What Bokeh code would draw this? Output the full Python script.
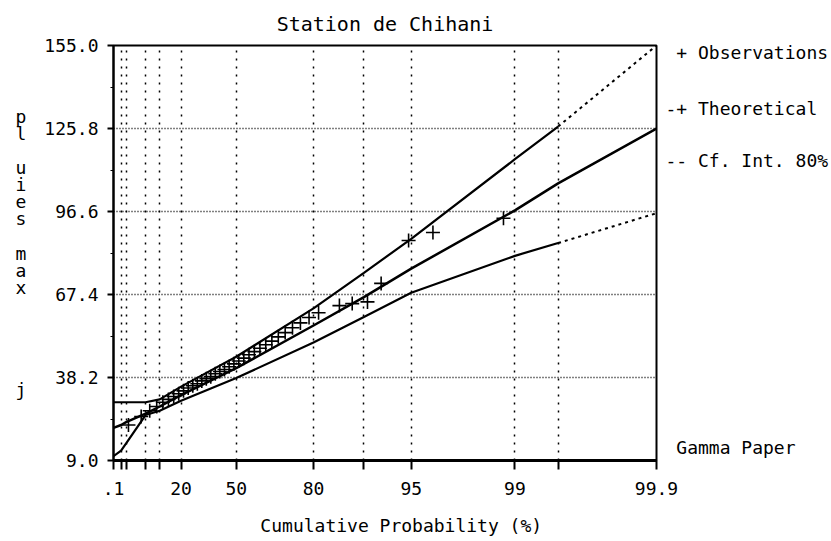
import math
from statistics import NormalDist
from bokeh.plotting import figure
from bokeh.models import (Range1d, FixedTicker, CustomJSTickFormatter, PrintfTickFormatter,
                          LinearAxis, ColumnDataSource)
from bokeh.embed import file_html
from bokeh.resources import INLINE

# ---------------- data ----------------
# probabilities in %, values in mm
obs_p = [1.3, 3.8, 6.3, 8.8, 11.3, 13.8, 16.3, 18.8, 21.3, 23.8, 26.3, 28.8, 31.3, 33.8,
         36.3, 38.8, 41.3, 43.8, 46.3, 48.8, 51.3, 53.8, 56.3, 58.8, 61.3, 63.8, 66.3,
         68.8, 71.3, 73.8, 76.3, 78.8, 81.3, 85.9, 88.2, 90.5, 92.2, 94.8, 96.4, 98.8]
obs_v = [21.5, 24.5, 26.5, 28.0, 29.5, 30.5, 31.5, 32.5, 33.5, 34.5, 35.3, 36.0, 37.0, 37.8,
         38.5, 39.5, 40.3, 41.0, 42.0, 43.0, 44.0, 45.0, 46.2, 47.3, 48.5, 49.7, 51.0,
         52.5, 54.0, 55.7, 57.4, 59.3, 61.0, 63.5, 64.2, 64.8, 71.3, 86.4, 89.2, 94.2]

curve_p = [0.1, 0.5, 1, 5, 10, 20, 50, 80, 90, 95, 99, 99.5, 99.9]
theo_v = [20.5, 21.5, 22.5, 25.5, 28.0, 32.0, 41.5, 56.5, 66.5, 76.5, 97.0, 106.5, 125.8]
upper_v = [29.5, 29.5, 29.5, 29.5, 30.5, 35.0, 45.5, 62.5, 75.0, 87.0, 115.0, 126.5, 155.0]
lower_v = [10.5, 12.5, 15.0, 25.0, 26.5, 30.0, 38.0, 50.5, 59.5, 68.0, 81.0, 85.5, 96.0]

x_tick_p = [0.1, 20, 50, 80, 95, 99, 99.9]
x_tick_labels = [".1", "20", "50", "80", "95", "99", "99.9"]
x_minor_p = [0.5, 1, 5, 10, 90, 99.5]
y_ticks = [9.0, 38.2, 67.4, 96.6, 125.8, 155.0]
y_minor = [23.6, 52.8, 82.0, 111.2, 140.4]

title_text = "Station de Chihani"
x_label = "\u00a0\u00a0\u00a0Cumulative Probability (%)"
y_label_letters = ["p", "l", " ", "u", "i", "e", "s", " ", "m", "a", "x", " ", " ", " ", " ", " ", "j"]
# key texts shown at the right of the frame (symbol + name)
key_texts = ["\u00a0+ Observations", "-+ Theoretical", "-- Cf. Int. 80%", "\u00a0Gamma Paper"]
key_rows = [152.5, 132.8, 114.5, 13.6]   # vertical placement of the key rows, in axis units

FONT = "DejaVu Sans Mono"
INK = "black"

# ---------------- gamma probability paper (shape 3) ----------------
K = 3.0
_c = 1.0 / (9.0 * K)
_nd = NormalDist()


def paper_x(pct):
    z = _nd.inv_cdf(pct / 100.0)
    return K * (1.0 - _c + z * math.sqrt(_c)) ** 3


def px(lst):
    return [paper_x(v) for v in lst]


NEAREST = """
let best = 0; let d = Infinity;
for (let i = 0; i < pos.length; i++) { const e = Math.abs(pos[i] - tick); if (e < d) { d = e; best = i; } }
return labels[best];
"""

p = figure(width=831, height=541, output_backend="svg", toolbar_location=None,
           x_range=Range1d(paper_x(0.1), paper_x(99.9)), y_range=Range1d(9.0, 155.0),
           min_border_left=113, min_border_right=173, min_border_top=45, min_border_bottom=81,
           background_fill_color="white", border_fill_color="white")

p.title.text = title_text
p.title.align = "center"
p.title.text_font = FONT
p.title.text_font_size = "20px"
p.title.text_font_style = "normal"
p.title.text_color = INK
p.title.standoff = 19

p.outline_line_color = INK
p.outline_line_width = 2

# x axis
xt = px(x_tick_p)
p.xaxis.ticker = FixedTicker(ticks=xt, minor_ticks=px(x_minor_p))
p.xaxis.formatter = CustomJSTickFormatter(args=dict(pos=xt, labels=x_tick_labels), code=NEAREST)
p.xaxis.axis_label = x_label
p.xaxis.axis_label_text_font = FONT
p.xaxis.axis_label_text_font_size = "18px"
p.xaxis.axis_label_text_font_style = "normal"
p.xaxis.axis_label_text_color = INK
p.xaxis.axis_label_standoff = 17
p.xaxis.major_label_text_font = FONT
p.xaxis.major_label_text_font_size = "18px"
p.xaxis.major_label_text_color = INK
p.xaxis.major_label_standoff = 12
p.xaxis.major_tick_in = 0
p.xaxis.major_tick_out = 9
p.xaxis.minor_tick_in = 0
p.xaxis.minor_tick_out = 9
p.xaxis.major_tick_line_width = 2
p.xaxis.minor_tick_line_width = 2
p.xaxis.axis_line_width = 3
p.xaxis.axis_line_color = INK

# y axis (label = stacked letters)
p.yaxis.ticker = FixedTicker(ticks=y_ticks, minor_ticks=y_minor)
p.yaxis.formatter = PrintfTickFormatter(format="%.1f")
p.yaxis.major_label_text_font = FONT
p.yaxis.major_label_text_font_size = "18px"
p.yaxis.major_label_text_color = INK
p.yaxis.major_label_standoff = 9
p.yaxis.major_tick_in = 0
p.yaxis.major_tick_out = 6
p.yaxis.minor_tick_in = 0
p.yaxis.minor_tick_out = 3
p.yaxis.major_tick_line_width = 2
p.yaxis.axis_line_width = 2
p.yaxis.axis_label = "\n".join(y_label_letters)
p.yaxis.axis_label_orientation = "horizontal"
p.yaxis.axis_label_text_font = FONT
p.yaxis.axis_label_text_font_size = "18px"
p.yaxis.axis_label_text_font_style = "normal"
p.yaxis.axis_label_text_color = INK
p.yaxis.axis_label_text_line_height = 0.81
p.yaxis.axis_label_standoff = 15

# key on the right, drawn as an extra unticked axis
key_axis = LinearAxis(ticker=FixedTicker(ticks=key_rows, minor_ticks=[]),
                      formatter=CustomJSTickFormatter(args=dict(pos=key_rows, labels=key_texts),
                                                      code=NEAREST),
                      axis_line_color=None, major_tick_in=0, major_tick_out=0,
                      minor_tick_in=0, minor_tick_out=0, major_label_standoff=9,
                      major_label_text_font=FONT, major_label_text_font_size="18px",
                      major_label_text_color=INK)
p.add_layout(key_axis, "right")

# grids: dotted black
p.xgrid.grid_line_color = INK
p.xgrid.grid_line_dash = "2 6"
p.xgrid.grid_line_width = 1.5
p.xgrid.minor_grid_line_color = INK
p.xgrid.minor_grid_line_dash = "2 6"
p.xgrid.minor_grid_line_width = 1.5
p.ygrid.grid_line_color = INK
p.ygrid.grid_line_dash = "1 2"
p.ygrid.grid_line_width = 1.5

# curves
cx = px(curve_p)
p.line(cx, theo_v, line_color=INK, line_width=2.5)
n_solid = curve_p.index(99.5) + 1
p.line(cx[:n_solid], upper_v[:n_solid], line_color=INK, line_width=2.2)
p.line(cx[:n_solid], lower_v[:n_solid], line_color=INK, line_width=2.2)
p.line(cx[n_solid - 1:], upper_v[n_solid - 1:], line_color=INK, line_width=2, line_dash="3 4")
p.line(cx[n_solid - 1:], lower_v[n_solid - 1:], line_color=INK, line_width=2, line_dash="3 4")

# observations
src = ColumnDataSource(dict(x=px(obs_p), y=obs_v))
p.scatter("x", "y", source=src, marker="cross", size=14, line_color=INK, line_width=1.6)

open("out.html", "w").write(file_html(p, INLINE))
